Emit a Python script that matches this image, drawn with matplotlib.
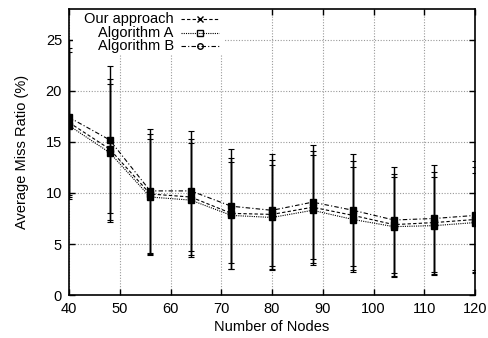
import matplotlib
matplotlib.use("Agg")
import matplotlib.pyplot as plt
from matplotlib.lines import Line2D
from matplotlib.patches import Rectangle

plt.rcParams['font.family'] = ['Liberation Sans', 'DejaVu Sans']

nodes = [40, 48, 56, 64, 72, 80, 88, 96, 104, 112, 120]
series_names = ["Our approach", "Algorithm A", "Algorithm B"]
ours = [16.9, 14.3, 9.9, 9.6, 8.0, 7.9, 8.6, 7.8, 6.9, 7.1, 7.4]
ours_err = [7.3, 6.9, 5.9, 5.7, 5.4, 5.3, 5.5, 5.3, 5.0, 5.0, 5.1]
alg_a = [16.6, 13.95, 9.6, 9.3, 7.8, 7.6, 8.3, 7.4, 6.7, 6.8, 7.1]
alg_a_err = [7.2, 6.75, 5.7, 5.55, 5.2, 5.15, 5.4, 5.1, 4.9, 4.8, 4.9]
alg_b = [17.4, 15.2, 10.2, 10.2, 8.7, 8.3, 9.1, 8.3, 7.35, 7.5, 7.8]
alg_b_err = [7.6, 7.2, 6.1, 5.9, 5.6, 5.5, 5.6, 5.5, 5.15, 5.2, 5.3]
x_ticks = [40, 50, 60, 70, 80, 90, 100, 110, 120]
y_ticks = [0, 5, 10, 15, 20, 25]

fig = plt.figure(figsize=(4.88, 3.38), dpi=100)
ax = fig.add_axes([0.1414, 0.127, 0.9734 - 0.1414, 0.973 - 0.127])

styles = [
    (ours, ours_err, (0, (3, 2)), 'x'),
    (alg_a, alg_a_err, (0, (1, 1)), 's'),
    (alg_b, alg_b_err, (0, (4, 2, 1, 2)), 'o'),
]
for name, (vals, err, ls, mk) in zip(series_names, styles):
    ax.errorbar(nodes, vals, yerr=err, fmt='none', ecolor='black',
                elinewidth=1.0, capsize=2.5, capthick=0.8, zorder=3)
    ax.plot(nodes, vals, color='black', linestyle=ls, linewidth=0.8,
            marker='s', markersize=5, markerfacecolor='black',
            markeredgecolor='black', zorder=4)

ax.set_xlim(40, 120)
ax.set_ylim(0, 28)
ax.set_xticks(x_ticks)
ax.set_yticks(y_ticks)
ax.grid(True, color='#999999', linestyle=(0, (1, 1.5)), linewidth=0.8)
ax.set_axisbelow(True)
ax.tick_params(direction='in', top=True, right=True, length=4, width=1,
               labelsize=10.5, colors='black', pad=5)
for sp in ax.spines.values():
    sp.set_linewidth(1.2)
    sp.set_zorder(7)

ax.set_xlabel("Number of Nodes", fontsize=10.5, labelpad=3)
ax.set_ylabel("Average Miss Ratio (%)", fontsize=10.5, labelpad=12)

# key (gnuplot style: right-aligned text, sample to the right)
ax.add_patch(Rectangle((0.01, 0.84), 0.375, 0.16, transform=ax.transAxes,
                       facecolor='white', edgecolor='none', zorder=5))
row_y = [0.965, 0.918, 0.872]
for (name, (vals, err, ls, mk)), yy in zip(zip(series_names, styles), row_y):
    ax.text(0.258, yy, name, transform=ax.transAxes, ha='right', va='center',
            fontsize=10.5, zorder=6)
    ax.add_line(Line2D([0.275, 0.369], [yy, yy], transform=ax.transAxes,
                       color='black', linestyle=ls, linewidth=0.8, zorder=6))
    mfc = 'none' if mk in ('s', 'o') else 'black'
    ax.add_line(Line2D([0.322], [yy], transform=ax.transAxes, color='black',
                       linestyle='none', marker=mk, markersize=4,
                       markerfacecolor=mfc, markeredgecolor='black',
                       markeredgewidth=1.0, zorder=6))

fig.savefig("out.png", dpi=100)
